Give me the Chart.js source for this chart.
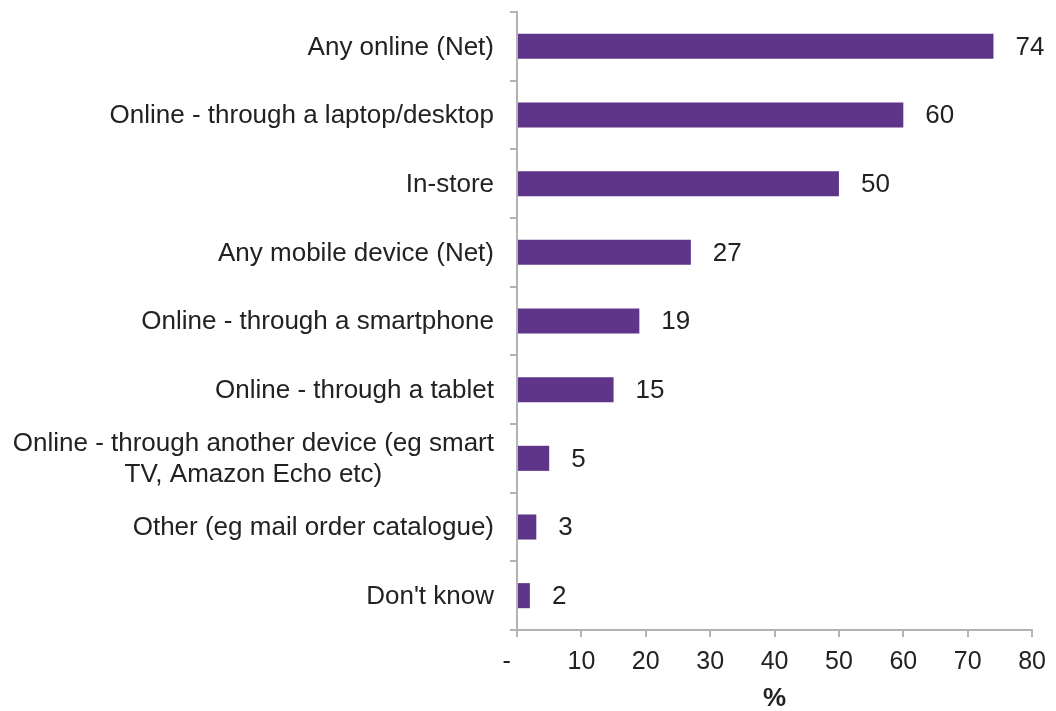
<!DOCTYPE html>
<html>
<head>
<meta charset="utf-8">
<script src="https://cdn.jsdelivr.net/npm/chart.js@4.4.1/dist/chart.umd.min.js"></script>
<style>
  html, body { margin: 0; padding: 0; background: #fff; }
  #wrap { width: 1056px; height: 711px; position: relative; }
</style>
</head>
<body>
<div id="wrap"><canvas id="c"></canvas></div>
<script>
// Where people shopped (% of respondents)
const categories = [
  'Any online (Net)',
  'Online - through a laptop/desktop',
  'In-store',
  'Any mobile device (Net)',
  'Online - through a smartphone',
  'Online - through a tablet',
  ['Online - through another device (eg smart', 'TV, Amazon Echo etc)'],
  'Other (eg mail order catalogue)',
  "Don't know"
];
const shares = [74, 60, 50, 27, 19, 15, 5, 3, 2];
const xTicks = ['-', '10', '20', '30', '40', '50', '60', '70', '80'];
const axisTitle = '%';

const FONT = "'Liberation Sans', Arial, sans-serif";
const LABEL_SIZE = 26;
const TICK_SIZE = 25;
const TEXT = '#222222';
const BAR = '#5f3589';
const AXIS = '#b3b3b3';

// Category labels: right-aligned block, wrapped lines centred within the block
const categoryLabels = {
  id: 'categoryLabels',
  afterDraw(chart) {
    const y = chart.scales.y;
    const ctx = chart.ctx;
    ctx.save();
    ctx.font = LABEL_SIZE + 'px ' + FONT;
    ctx.fillStyle = TEXT;
    ctx.textAlign = 'center';
    ctx.textBaseline = 'middle';
    const right = y.right - 23;
    const lineH = 31;
    categories.forEach((lab, i) => {
      const lines = Array.isArray(lab) ? lab : [lab];
      const w = Math.max(...lines.map(l => ctx.measureText(l).width));
      const cy = y.getPixelForValue(i);
      lines.forEach((l, k) => {
        ctx.fillText(l, right - w / 2, cy + 1 + (k - (lines.length - 1) / 2) * lineH);
      });
    });
    ctx.restore();
  }
};

// Value labels to the right of each bar
const valueLabels = {
  id: 'valueLabels',
  afterDatasetsDraw(chart) {
    const ctx = chart.ctx;
    const meta = chart.getDatasetMeta(0);
    ctx.save();
    ctx.font = LABEL_SIZE + 'px ' + FONT;
    ctx.fillStyle = TEXT;
    ctx.textAlign = 'left';
    ctx.textBaseline = 'middle';
    meta.data.forEach((bar, i) => {
      ctx.fillText(String(shares[i]), bar.x + 22, bar.y + 1);
    });
    ctx.restore();
  }
};

new Chart(document.getElementById('c'), {
  type: 'bar',
  data: {
    labels: categories,
    datasets: [{
      data: shares,
      backgroundColor: BAR,
      borderWidth: 0,
      barPercentage: 0.365,
      categoryPercentage: 1
    }]
  },
  options: {
    indexAxis: 'y',
    responsive: true,
    maintainAspectRatio: false,
    animation: false,
    layout: { padding: { top: 12, right: 21, bottom: 0, left: 0 } },
    plugins: { legend: { display: false }, tooltip: { enabled: false } },
    scales: {
      y: {
        type: 'category',
        offset: true,
        afterFit(scale) { scale.width = 517; },
        grid: {
          offset: true,
          drawOnChartArea: false,
          drawTicks: true,
          tickLength: 7,
          color: AXIS,
          lineWidth: 2
        },
        border: { display: true, color: AXIS, width: 2 },
        ticks: { display: false }
      },
      x: {
        type: 'linear',
        min: 0,
        max: 80,
        afterFit(scale) { scale.height = 711 - 630; },
        afterBuildTicks(scale) {
          scale.ticks = xTicks.map((t, i) => ({ value: i * 10 }));
        },
        grid: {
          drawOnChartArea: false,
          drawTicks: true,
          tickLength: 7,
          color: AXIS,
          lineWidth: 2
        },
        border: { display: true, color: AXIS, width: 2 },
        ticks: {
          padding: 10,
          color: TEXT,
          font: { family: FONT, size: TICK_SIZE },
          maxRotation: 0,
          autoSkip: false,
          callback(value, index) { return index === 0 ? xTicks[0] + '   ' : xTicks[index]; }
        },
        title: {
          display: true,
          text: axisTitle,
          color: TEXT,
          font: { family: FONT, size: 26, weight: 'bold' },
          padding: { top: 0, bottom: -3 }
        }
      }
    }
  },
  plugins: [categoryLabels, valueLabels]
});
</script>
</body>
</html>
